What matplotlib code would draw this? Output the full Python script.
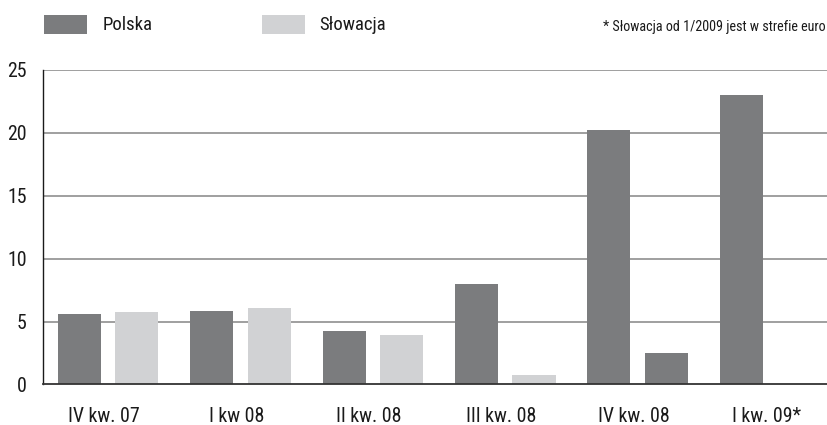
import numpy as np
import matplotlib
matplotlib.use("Agg")
import matplotlib.pyplot as plt
from matplotlib.patches import Rectangle
from matplotlib import font_manager

categories = ["IV kw. 07", "I kw 08", "II kw. 08", "III kw. 08", "IV kw. 08", "I kw. 09*"]
polska = [5.6, 5.85, 4.25, 8.0, 20.2, 23.0]
slowacja = [5.8, 6.05, 3.95, 0.75, 2.5, None]
series_names = ["Polska", "Słowacja"]
note = "* Słowacja od 1/2009 jest w strefie euro"
yticks = [0, 5, 10, 15, 20, 25]

DARK = "#7b7c7e"
LIGHT = "#d1d2d4"
# the IV kw. 08 Słowacja bar is drawn in the dark tone in the original
slow_colors = [LIGHT, LIGHT, LIGHT, LIGHT, DARK, LIGHT]

# look for a condensed sans font
cands = []
for f in font_manager.fontManager.ttflist:
    st = str(f.stretch).lower()
    if (("condensed" in st or "narrow" in f.name.lower() or "condensed" in f.name.lower())
            and f.style == "normal" and f.weight in (400, "normal", "regular")):
        cands.append(f)
chosen = None
pref = ["Roboto Condensed", "Liberation Sans Narrow", "Open Sans Condensed", "Noto Sans",
        "Open Sans", "DejaVu Sans Condensed", "DejaVu Sans"]
for p in pref:
    for f in cands:
        if f.name == p:
            chosen = f
            break
    if chosen:
        break
if chosen is None and cands:
    chosen = cands[0]

if chosen is not None:
    fp_kw = dict(fname=chosen.fname)
    scale = 1.0
else:
    fp_kw = dict(family=["Liberation Sans", "DejaVu Sans"])
    scale = 0.88

def FP(size):
    return font_manager.FontProperties(size=size * scale, **fp_kw)

fig = plt.figure(figsize=(8.27, 4.25), dpi=100)
ax = fig.add_axes([0.0524, 0.0953, 0.9476, 0.74])

x = np.arange(len(categories))
w = 0.325
off = 0.217
ax.bar(x - off, polska, width=w, color=DARK, zorder=3)
sx = [xi + off for xi, v in zip(x, slowacja) if v is not None]
sv = [v for v in slowacja if v is not None]
sc = [c for c, v in zip(slow_colors, slowacja) if v is not None]
ax.bar(sx, sv, width=w, color=sc, zorder=3)

ax.set_xlim(-0.489, 5.43)
ax.set_ylim(0, 25)
ax.set_yticks(yticks)
ax.set_yticklabels([str(t) for t in yticks], fontproperties=FP(14.3))
ax.set_xticks(x - 0.03)
ax.set_xticklabels(categories, fontproperties=FP(14.3))
ax.tick_params(axis="both", length=0, colors="#1a1a1a")
ax.tick_params(axis="y", pad=12)
ax.tick_params(axis="x", pad=16)

for t in yticks[1:]:
    ax.axhline(t, color="#858585", linewidth=1.1, zorder=1)
ax.spines["top"].set_visible(False)
ax.spines["right"].set_visible(False)
ax.spines["left"].set_color("#1a1a1a")
ax.spines["left"].set_linewidth(1.0)
ax.spines["bottom"].set_color("#333333")
ax.spines["bottom"].set_linewidth(1.3)
ax.spines["bottom"].set_zorder(4)

# legend
W, H = 827, 425
def rect(x0, y0, wpx, hpx, color):
    fig.add_artist(Rectangle((x0 / W, 1 - (y0 + hpx) / H), wpx / W, hpx / H,
                             transform=fig.transFigure, color=color, lw=0))
rect(43.5, 15, 43, 19, DARK)
fig.text(103 / W, 1 - 25 / H, series_names[0], fontproperties=FP(13.5), va="center", ha="left", color="#1a1a1a")
rect(262, 15, 43, 19, LIGHT)
fig.text(319 / W, 1 - 25 / H, series_names[1], fontproperties=FP(13.5), va="center", ha="left", color="#1a1a1a")
fig.text(826 / W, 1 - 27 / H, note, fontproperties=FP(10.2), va="center", ha="right", color="#1a1a1a")

fig.savefig("out.png", dpi=100)
